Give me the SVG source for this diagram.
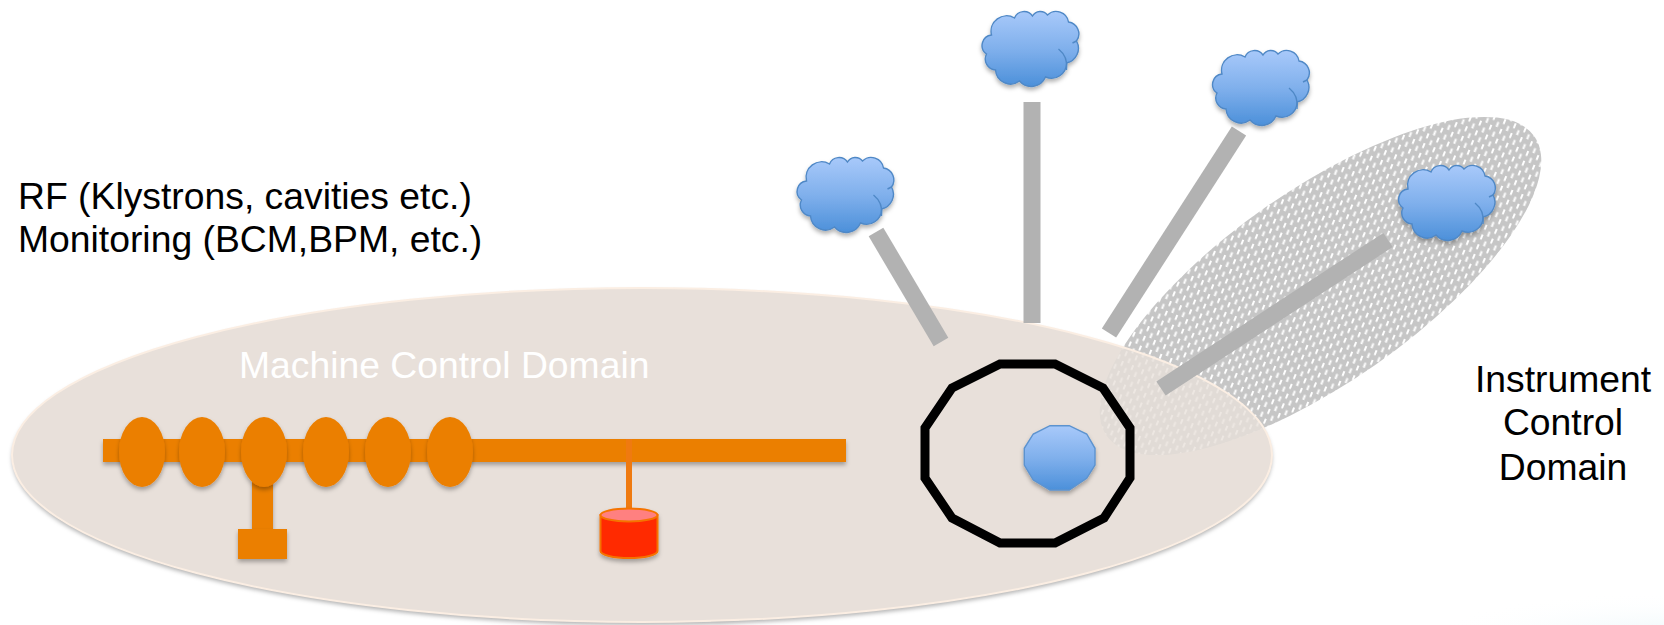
<svg xmlns="http://www.w3.org/2000/svg" xmlns:xlink="http://www.w3.org/1999/xlink" width="1664" height="625" viewBox="0 0 1664 625">
<style>
text{font-family:"Liberation Sans",Arial,sans-serif;font-size:37.3px;fill:#000}
.orange{fill:#EB7F05}
.gray{stroke:#B2B2B2;stroke-width:17;fill:none}
.cloud{fill:url(#blue);stroke:#4F88C6;stroke-width:1.4}
</style>
<defs>
<linearGradient id="blue" x1="0" y1="0" x2="0" y2="1"><stop offset="0" stop-color="#A8C9FA"/><stop offset="0.5" stop-color="#80B0EC"/><stop offset="1" stop-color="#4C90DA"/></linearGradient>
<radialGradient id="corner" gradientUnits="userSpaceOnUse" cx="1664" cy="640" r="240" gradientTransform="translate(0 512) scale(1 0.2)"><stop offset="0" stop-color="#EBF6FA"/><stop offset="1" stop-color="#FFFFFF" stop-opacity="0"/></radialGradient>
<filter id="sh" filterUnits="userSpaceOnUse" x="0" y="0" width="1664" height="625"><feDropShadow dx="0" dy="3" stdDeviation="2" flood-color="#000" flood-opacity="0.3"/></filter>
<pattern id="weave" patternUnits="userSpaceOnUse" width="10.500" height="11" patternTransform="rotate(-33 1324 285)">
<rect width="10.500" height="11" fill="#C6C6C6"/>
<rect x="1" y="1.500" width="5.200" height="2" fill="#fff"/>
<rect x="6.250" y="7" width="5.200" height="2" fill="#fff"/>
<rect x="-4.250" y="7" width="5.200" height="2" fill="#fff"/>
</pattern>
<g id="cl">
<path class="cloud" d="M10 27A15.500 15.500 0 0 1 33 10A10.300 10.300 0 0 1 51 8A9 9 0 0 1 66 7A12.500 12.500 0 0 1 87 14A12 12 0 0 1 95 33A15 15 0 0 1 85 55A15 15 0 0 1 64 69A15.500 15.500 0 0 1 38 73A15 15 0 0 1 14 62A11 11 0 0 1 5 46A10.500 10.500 0 0 1 10 27Z"/>
<path d="M77 41Q87 49 85 62M95 33L91 35" fill="none" stroke="#4F88C6" stroke-width="1.400"/>
</g>
</defs>
<rect width="1664" height="625" fill="#fff"/>
<rect x="1400" y="540" width="264" height="85" fill="url(#corner)"/>

<ellipse id="machine-base" cx="642" cy="455" rx="630" ry="167" fill="#E8E0DA" filter="url(#sh)"/>
<g id="instrument-domain"><ellipse cx="1320.500" cy="286" rx="261" ry="96" transform="rotate(-35 1320.500 286)" fill="url(#weave)"/></g>
<g id="machine-domain">
<ellipse cx="642" cy="455" rx="630" ry="167" fill="#E8E0DA" fill-opacity="0.78" stroke="#FBEEE3" stroke-width="2"/>
<text x="239" y="378" style="fill:#fff">Machine Control Domain</text>
</g>
<g id="beam-pipe" filter="url(#sh)"><rect class="orange" x="103" y="439" width="743" height="23"/></g>
<g id="connectors">
<line class="gray" x1="876" y1="232" x2="941" y2="342"/>
<line class="gray" x1="1032" y1="102" x2="1032" y2="323"/>
<line class="gray" x1="1239" y1="131" x2="1109" y2="333"/>
<line class="gray" x1="1388" y1="240" x2="1161" y2="388.500"/>
<line x1="629" y1="439" x2="629" y2="512" stroke="#EF7A10" stroke-width="6"/>
<line x1="262.500" y1="480" x2="262.500" y2="530" stroke="#EB7F05" stroke-width="21" filter="url(#sh)"/>
</g>
<g id="cavities" filter="url(#sh)" class="orange">
<ellipse id="cavity-1" cx="142" cy="452" rx="23" ry="35"/>
<ellipse id="cavity-2" cx="202" cy="452" rx="23" ry="35"/>
<ellipse id="cavity-3" cx="264" cy="452" rx="23" ry="35"/>
<ellipse id="cavity-4" cx="326" cy="452" rx="23" ry="35"/>
<ellipse id="cavity-5" cx="388" cy="452" rx="23" ry="35"/>
<ellipse id="cavity-6" cx="450" cy="452" rx="23" ry="35"/>
</g>
<g id="foot" filter="url(#sh)"><rect class="orange" x="238" y="529" width="49" height="30"/></g>
<g id="cylinder" filter="url(#sh)">
<path d="M600.500 515V551A28.500 7 0 0 0 657.500 551V515Z" fill="#FF2A00" stroke="#F57300" stroke-width="2"/>
<ellipse cx="629" cy="515" rx="28.500" ry="6.500" fill="#FF8080" stroke="#F57300" stroke-width="2"/>
</g>
<g id="control-ring"><polygon points="1000,364 1055,364 1103,388 1130,428 1130,478 1104,518 1055,543 1000,543 952,518 925,478 925,428 952,388" fill="none" stroke="#000" stroke-width="9"/></g>
<g id="core" filter="url(#sh)"><polygon points="1050,425.700 1069.300,425.700 1086.700,434 1095,448.300 1095,465 1086.700,478.300 1069.300,490 1050,490 1033.300,480 1024.300,465 1024.300,448.300 1033.300,434" fill="url(#blue)" stroke="#5C93CF" stroke-width="1.400"/></g>
<g id="cloud-a" filter="url(#sh)"><use href="#cl" transform="translate(796.500 154)"/></g>
<g id="cloud-b" filter="url(#sh)"><use href="#cl" transform="translate(981.500 8)"/></g>
<g id="cloud-c" filter="url(#sh)"><use href="#cl" transform="translate(1212 47)"/></g>
<g id="cloud-d" filter="url(#sh)"><use href="#cl" transform="translate(1398 162)"/></g>
<g id="labels">
<text x="18" y="209">RF (Klystrons, cavities etc.)</text>
<text x="18" y="252">Monitoring (BCM,BPM, etc.)</text>
<text x="1563" y="392" text-anchor="middle">Instrument</text>
<text x="1563" y="435" text-anchor="middle">Control</text>
<text x="1563" y="480" text-anchor="middle">Domain</text>
</g>
</svg>
